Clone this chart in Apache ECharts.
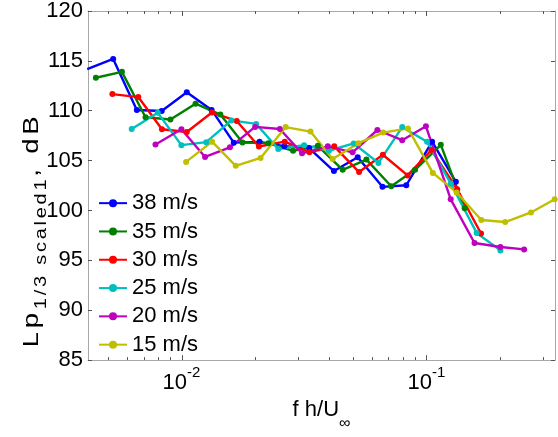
<!DOCTYPE html>
<html>
<head>
<meta charset="utf-8">
<script src="https://cdn.jsdelivr.net/npm/echarts@6/dist/echarts.min.js"></script>
<style>
  html, body { margin: 0; padding: 0; background: #fff; }
  #main { width: 558px; height: 437px; }
</style>
</head>
<body>
<div id="main"></div>
<script>
var FONT = '"Liberation Sans", Arial, Helvetica, sans-serif';

// series names and colours (old matlab order)
var names = ['38 m/s', '35 m/s', '30 m/s', '25 m/s', '20 m/s', '15 m/s'];
var colors = ['#0000ff', '#008000', '#ff0000', '#00bfbf', '#bf00bf', '#bfbf00'];

// f h / U
var x38 = [0.00412, 0.00526, 0.00657, 0.00830, 0.01051, 0.01327, 0.01634, 0.02083, 0.02629, 0.03319, 0.04191, 0.05241, 0.06616, 0.08276, 0.1055, 0.1319];
var x35 = [0.00447, 0.00571, 0.00713, 0.00901, 0.01141, 0.01441, 0.01774, 0.02261, 0.02854, 0.03603, 0.0455, 0.0569, 0.07183, 0.08985, 0.1145, 0.1432];
var x30 = [0.00522, 0.00666, 0.00832, 0.01051, 0.01331, 0.01681, 0.0207, 0.02639, 0.0333, 0.04204, 0.05309, 0.06639, 0.0838, 0.1048, 0.1336, 0.1671];
var x25 = [0.00626, 0.0080, 0.00999, 0.01262, 0.01598, 0.02017, 0.02484, 0.03166, 0.03996, 0.05045, 0.0637, 0.07966, 0.1006, 0.1258, 0.1604, 0.2005];
var x20 = [0.00783, 0.00999, 0.01248, 0.01577, 0.01997, 0.02521, 0.03105, 0.03958, 0.04995, 0.06306, 0.07963, 0.09958, 0.1257, 0.1572, 0.2005, 0.2506];
var x15 = [0.01044, 0.01333, 0.01665, 0.02103, 0.02663, 0.03362, 0.0414, 0.05277, 0.0666, 0.08408, 0.1062, 0.1328, 0.1676, 0.2097, 0.2673, 0.3341];

// Lp 1/3 scaled, dB
var lp38 = [114.17, 115.19, 110.08, 109.98, 111.86, 110.08, 106.80, 106.88, 106.45, 106.26, 103.95, 105.34, 102.37, 102.53, 106.90, 102.87];
var lp35 = [113.31, 113.90, 109.35, 109.12, 110.71, 109.62, 106.82, 106.75, 105.99, 106.48, 104.08, 105.10, 102.43, 104.08, 106.58, 100.23];
var lp30 = [111.67, 111.37, 108.14, 107.87, 109.82, 108.98, 106.41, 106.90, 105.83, 106.43, 103.85, 105.59, 103.52, 106.06, 102.13, 97.69];
var lp25 = [108.17, 109.79, 106.55, 106.85, 109.03, 108.68, 106.16, 106.55, 105.99, 106.72, 104.77, 108.36, 106.90, 102.70, 97.75, 96.00];
var lp20 = [106.62, 108.14, 105.37, 106.33, 108.38, 108.17, 105.73, 106.43, 105.83, 108.07, 107.05, 108.44, 101.12, 96.74, 96.34, 96.10];
var lp15 = [104.87, 106.90, 104.48, 105.27, 108.36, 107.91, 105.17, 106.75, 107.81, 108.23, 103.77, 101.81, 99.04, 98.84, 99.80, 101.12];

// log axis tick positions
var xTicks = [0.005, 0.006, 0.007, 0.008, 0.009, 0.01, 0.02, 0.03, 0.04, 0.05, 0.06, 0.07, 0.08, 0.09, 0.1, 0.2, 0.3];

var xs = [x38, x35, x30, x25, x20, x15];
var ys = [lp38, lp35, lp30, lp25, lp20, lp15];

var X_MIN = 0.004151, X_MAX = 0.335;
var Y_MIN = 85, Y_MAX = 120;

function isDecade(v) {
  var l = Math.log10(v);
  return Math.abs(l - Math.round(l)) < 1e-6;
}

// one rich token per character, so the loose spacing of the rotated label can be copied
function spaced(str, key) {
  return str.split('').map(function (c) { return '{' + key + '|' + c + '}'; }).join('');
}

var series = names.map(function (n, i) {
  return {
    name: n,
    type: 'line',
    data: xs[i].map(function (x, j) { return [x, ys[i][j]]; }),
    symbol: 'circle',
    symbolSize: 6,
    lineStyle: { width: 2.4, color: colors[i] },
    itemStyle: { color: colors[i] },
    emphasis: { disabled: true }
  };
});

// matlab style inward ticks on bottom and top of the log axis
series.push({
  type: 'custom',
  silent: true,
  data: xTicks.map(function (v) { return [v, Y_MIN]; }),
  encode: { x: 0, y: 1 },
  renderItem: function (params, api) {
    var v = api.value(0);
    var b = api.coord([v, Y_MIN]);
    var t = api.coord([v, Y_MAX]);
    var len = isDecade(v) ? 5 : 3;
    var px = Math.round(b[0]) + 0.5;
    var st = { stroke: '#555', lineWidth: 1 };
    return {
      type: 'group',
      children: [
        { type: 'line', shape: { x1: px, y1: b[1], x2: px, y2: b[1] - len }, style: st },
        { type: 'line', shape: { x1: px, y1: t[1], x2: px, y2: t[1] + len }, style: st }
      ]
    };
  },
  z: 3
});

var chart = echarts.init(document.getElementById('main'));
chart.setOption({
  animation: false,
  backgroundColor: '#fff',
  textStyle: { fontFamily: FONT },
  grid: { left: 88, top: 10, right: -1, bottom: 73 },
  legend: {
    data: names,
    orient: 'vertical',
    left: 98,
    top: 189,
    padding: 0,
    itemWidth: 28,
    itemHeight: 10,
    itemGap: 0,
    textStyle: { fontFamily: FONT, fontSize: 22, color: '#000', lineHeight: 28.3 }
  },
  graphic: [{
    type: 'text',
    x: 32,
    y: 230,
    rotation: Math.PI / 2,
    scaleX: 1.25,
    silent: true,
    style: {
      text: spaced('Lp', 'm') + spaced('1/3 scaled1', 's') + spaced(', dB', 'm'),
      align: 'center',
      verticalAlign: 'middle',
      rich: {
        m: { fontFamily: FONT, fontSize: 22, lineHeight: 22, fill: '#000', verticalAlign: 'top', padding: [0, 3, 0, 0] },
        s: { fontFamily: FONT, fontSize: 16, lineHeight: 15, fill: '#000', verticalAlign: 'top', padding: [13, 2.2, 0, 0] }
      }
    }
  }],
  xAxis: [{
    type: 'log',
    min: X_MIN,
    max: X_MAX,
    position: 'bottom',
    name: '{m|f h/U}{s|∞}',
    nameLocation: 'middle',
    nameGap: 37,
    nameTextStyle: {
      rich: {
        m: { fontFamily: FONT, fontSize: 22, lineHeight: 22, color: '#000', verticalAlign: 'top' },
        s: { fontFamily: FONT, fontSize: 16, lineHeight: 16, color: '#000', verticalAlign: 'top', padding: [17, 0, 0, 0] }
      }
    },
    axisLine: { show: true, lineStyle: { color: '#a8a8a8', width: 1 } },
    axisTick: { show: false },
    splitLine: { show: false },
    minorTick: { show: false },
    axisLabel: {
      margin: 5,
      formatter: function (v) {
        if (!isDecade(v)) return '';
        return '{b|10}{p|' + Math.round(Math.log10(v)) + '}';
      },
      rich: {
        b: { fontFamily: FONT, fontSize: 22, lineHeight: 24, color: '#000', verticalAlign: 'top', padding: [7, 0, 0, 0] },
        p: { fontFamily: FONT, fontSize: 15, lineHeight: 16, color: '#000', verticalAlign: 'top' }
      }
    }
  }, {
    type: 'log',
    min: X_MIN,
    max: X_MAX,
    position: 'top',
    axisLine: { show: true, lineStyle: { color: '#a8a8a8', width: 1 } },
    axisTick: { show: false },
    axisLabel: { show: false },
    splitLine: { show: false }
  }],
  yAxis: [{
    type: 'value',
    min: Y_MIN,
    max: Y_MAX,
    interval: 5,
    position: 'left',
    axisLine: { show: true, lineStyle: { color: '#a8a8a8', width: 1 } },
    axisTick: { show: true, inside: true, length: 4, lineStyle: { color: '#555' } },
    axisLabel: { margin: 5, fontFamily: FONT, fontSize: 22, color: '#000' },
    splitLine: { show: false }
  }, {
    type: 'value',
    min: Y_MIN,
    max: Y_MAX,
    interval: 5,
    position: 'right',
    axisLine: { show: true, lineStyle: { color: '#a8a8a8', width: 1 } },
    axisTick: { show: true, inside: true, length: 4, lineStyle: { color: '#555' } },
    axisLabel: { show: false },
    splitLine: { show: false }
  }],
  series: series
});
</script>
</body>
</html>
